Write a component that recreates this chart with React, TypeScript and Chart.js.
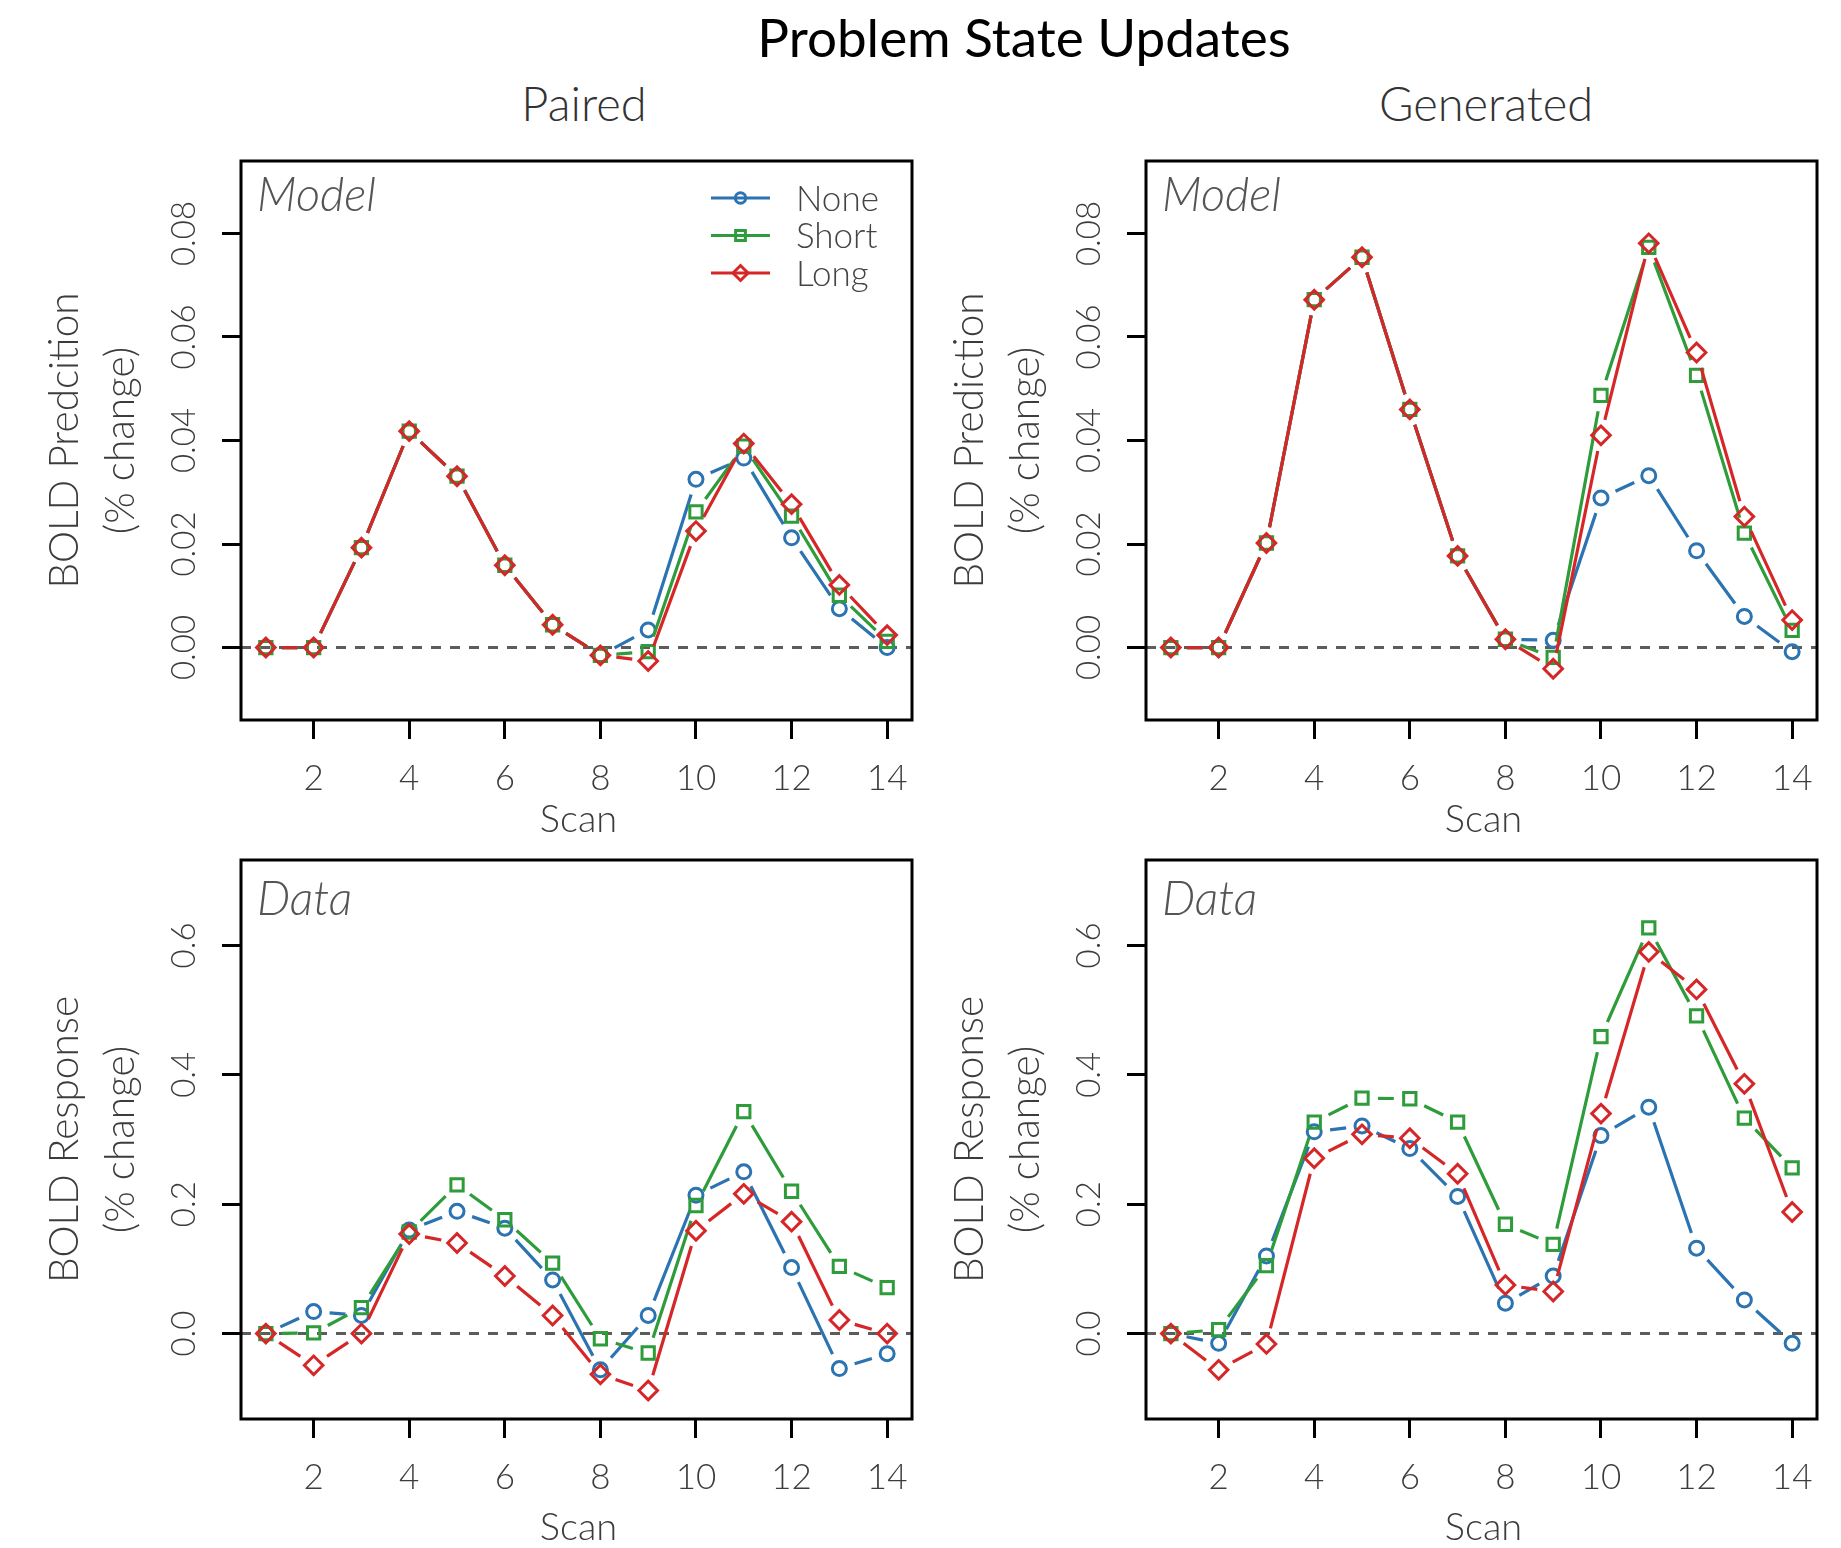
import React, { useEffect, useRef } from 'react';
import { Chart, registerables } from 'chart.js';

Chart.register(...registerables);

// ---------------- data ----------------
const scans = [1, 2, 3, 4, 5, 6, 7, 8, 9, 10, 11, 12, 13, 14];
const seriesNames = ['None', 'Short', 'Long'];

// Paired – Model
const pairedModelNone = [0, 0, 0.0193, 0.0418, 0.0331, 0.0159, 0.0044, -0.0015, 0.0034, 0.0325, 0.0366, 0.0212, 0.0075, 0.0];
const pairedModelShort = [0, 0, 0.0193, 0.0418, 0.0331, 0.0159, 0.0044, -0.0015, -0.0008, 0.0262, 0.0389, 0.0254, 0.0101, 0.0012];
const pairedModelLong = [0, 0, 0.0193, 0.0418, 0.0331, 0.0159, 0.0044, -0.0015, -0.0026, 0.0225, 0.0394, 0.0277, 0.0121, 0.0024];

// Generated – Model
const generatedModelNone = [0, 0, 0.0202, 0.0672, 0.0754, 0.046, 0.0177, 0.0016, 0.0014, 0.0289, 0.0332, 0.0187, 0.006, -0.0008];
const generatedModelShort = [0, 0, 0.0202, 0.0672, 0.0754, 0.046, 0.0177, 0.0016, -0.0019, 0.0487, 0.0773, 0.0526, 0.0221, 0.0033];
const generatedModelLong = [0, 0, 0.0202, 0.0672, 0.0754, 0.046, 0.0177, 0.0016, -0.0041, 0.041, 0.0781, 0.057, 0.0253, 0.0053];

// Paired – Data
const pairedDataNone = [0, 0.034, 0.028, 0.16, 0.189, 0.163, 0.083, -0.056, 0.028, 0.214, 0.25, 0.102, -0.054, -0.031];
const pairedDataShort = [0, 0.001, 0.04, 0.157, 0.23, 0.176, 0.109, -0.008, -0.03, 0.198, 0.343, 0.22, 0.104, 0.071];
const pairedDataLong = [0, -0.049, 0.0, 0.154, 0.14, 0.089, 0.028, -0.063, -0.088, 0.159, 0.216, 0.173, 0.021, 0.0];

// Generated – Data
const generatedDataNone = [0, -0.015, 0.12, 0.312, 0.321, 0.286, 0.212, 0.047, 0.089, 0.306, 0.35, 0.132, 0.052, -0.015];
const generatedDataShort = [0, 0.006, 0.105, 0.327, 0.364, 0.363, 0.327, 0.169, 0.138, 0.459, 0.627, 0.491, 0.333, 0.256];
const generatedDataLong = [0, -0.056, -0.016, 0.271, 0.308, 0.302, 0.247, 0.075, 0.065, 0.34, 0.59, 0.532, 0.386, 0.188];

// ticks / ranges
const scanTicks = [2, 4, 6, 8, 10, 12, 14];
const scanTickLabels = ['2', '4', '6', '8', '10', '12', '14'];
const scanRange = [0.48, 14.52];
const modelTicks = [0, 0.02, 0.04, 0.06, 0.08];
const modelTickLabels = ['0.00', '0.02', '0.04', '0.06', '0.08'];
const modelRange = [-0.014, 0.094];
const dataTicks = [0, 0.2, 0.4, 0.6];
const dataTickLabels = ['0.0', '0.2', '0.4', '0.6'];
const dataRange = [-0.132, 0.732];

// ---------------- styles ----------------
const seriesColors = ['#2b73b1', '#2e9c3a', '#d62728'];
const pointStyles = ['circle', 'rect', 'rectRot'];
const pointRadii = [7, 8.7, 9.3];
const FONT = 'Lato, "Noto Sans", sans-serif';
const GAP = 16;
const LINE_W = 3.2;
const MARK_W = 3;

const BOX_W = 671;
const BOX_H = 559;
const PAD_L = 241;
const PAD_T = 20;
const PAD_R = 10;
const PAD_B = 128;

type PanelCfg = {
  left: number;
  top: number;
  series: number[][];
  yTicks: number[];
  yTickLabels: string[];
  yRange: number[];
  yTitle: string[];
  label: string;
  labelBaseline: number;
  scanBaseline: number;
  legend: boolean;
};

const panels: PanelCfg[] = [
  {
    left: 241, top: 161,
    series: [pairedModelNone, pairedModelShort, pairedModelLong],
    yTicks: modelTicks, yTickLabels: modelTickLabels, yRange: modelRange,
    yTitle: ['BOLD Predcition', '(% change)'], label: 'Model', labelBaseline: 50, scanBaseline: 112, legend: true,
  },
  {
    left: 1146, top: 161,
    series: [generatedModelNone, generatedModelShort, generatedModelLong],
    yTicks: modelTicks, yTickLabels: modelTickLabels, yRange: modelRange,
    yTitle: ['BOLD Prediction', '(% change)'], label: 'Model', labelBaseline: 50, scanBaseline: 112, legend: false,
  },
  {
    left: 241, top: 860,
    series: [pairedDataNone, pairedDataShort, pairedDataLong],
    yTicks: dataTicks, yTickLabels: dataTickLabels, yRange: dataRange,
    yTitle: ['BOLD Response', '(% change)'], label: 'Data', labelBaseline: 55, scanBaseline: 121, legend: false,
  },
  {
    left: 1146, top: 860,
    series: [generatedDataNone, generatedDataShort, generatedDataLong],
    yTicks: dataTicks, yTickLabels: dataTickLabels, yRange: dataRange,
    yTitle: ['BOLD Response', '(% change)'], label: 'Data', labelBaseline: 55, scanBaseline: 121, legend: false,
  },
];

function drawMarker(ctx: CanvasRenderingContext2D, style: string, x: number, y: number, r: number) {
  ctx.beginPath();
  if (style === 'circle') {
    ctx.arc(x, y, r, 0, Math.PI * 2);
  } else if (style === 'rect') {
    const s = r * Math.SQRT1_2;
    ctx.rect(x - s, y - s, 2 * s, 2 * s);
  } else {
    ctx.moveTo(x - r, y);
    ctx.lineTo(x, y - r);
    ctx.lineTo(x + r, y);
    ctx.lineTo(x, y + r);
    ctx.closePath();
  }
  ctx.stroke();
}

function makePlugin(p: PanelCfg) {
  return {
    id: 'panelDecor',
    beforeDatasetsDraw(chart: any) {
      const { ctx, chartArea: a } = chart;
      const y0 = chart.scales.y.getPixelForValue(0);
      ctx.save();
      ctx.beginPath();
      ctx.rect(a.left, a.top, a.right - a.left, a.bottom - a.top);
      ctx.clip();
      ctx.beginPath();
      ctx.setLineDash([10, 9]);
      ctx.lineWidth = 3;
      ctx.strokeStyle = '#5c5c5c';
      ctx.moveTo(a.left, y0);
      ctx.lineTo(a.right, y0);
      ctx.stroke();
      ctx.restore();
    },
    beforeDatasetDraw(chart: any, args: any) {
      const { ctx } = chart;
      const i = args.index;
      const pts = args.meta.data;
      ctx.save();
      ctx.strokeStyle = seriesColors[i];
      ctx.lineWidth = LINE_W;
      ctx.lineCap = 'butt';
      ctx.beginPath();
      for (let k = 0; k < pts.length - 1; k++) {
        const a = pts[k];
        const b = pts[k + 1];
        const dx = b.x - a.x;
        const dy = b.y - a.y;
        const d = Math.hypot(dx, dy);
        if (d <= 2 * GAP) continue;
        const ux = dx / d;
        const uy = dy / d;
        ctx.moveTo(a.x + ux * GAP, a.y + uy * GAP);
        ctx.lineTo(b.x - ux * GAP, b.y - uy * GAP);
      }
      ctx.stroke();
      ctx.restore();
    },
    afterDraw(chart: any) {
      const { ctx, chartArea: a } = chart;
      const xS = chart.scales.x;
      const yS = chart.scales.y;
      ctx.save();
      // box
      ctx.strokeStyle = '#000';
      ctx.lineWidth = 3;
      ctx.setLineDash([]);
      ctx.strokeRect(a.left, a.top, a.right - a.left, a.bottom - a.top);

      // x tick labels
      ctx.fillStyle = '#3c3c3c';
      ctx.font = `300 35px ${FONT}`;
      ctx.textAlign = 'center';
      ctx.textBaseline = 'alphabetic';
      scanTicks.forEach((v, k) => {
        ctx.fillText(scanTickLabels[k], xS.getPixelForValue(v), a.bottom + 70);
      });
      // x title
      ctx.font = `300 38px ${FONT}`;
      ctx.fillText('Scan', (a.left + a.right) / 2 + 2, a.bottom + p.scanBaseline);

      // y tick labels (rotated)
      ctx.font = `300 33px ${FONT}`;
      p.yTicks.forEach((v, k) => {
        const py = yS.getPixelForValue(v);
        ctx.save();
        ctx.translate(a.left - 46, py);
        ctx.rotate(-Math.PI / 2);
        ctx.fillText(p.yTickLabels[k], 0, 0);
        ctx.restore();
      });
      // y title
      ctx.font = `300 40.5px ${FONT}`;
      const cy = (a.top + a.bottom) / 2;
      [a.left - 163, a.left - 107].forEach((bx, k) => {
        ctx.save();
        ctx.translate(bx, cy);
        ctx.rotate(-Math.PI / 2);
        ctx.fillText(p.yTitle[k], 0, 0);
        ctx.restore();
      });

      // panel label
      ctx.fillStyle = '#555';
      ctx.textAlign = 'left';
      ctx.font = `italic 300 47px ${FONT}`;
      ctx.fillText(p.label, a.left + 16, a.top + p.labelBaseline);

      // legend
      if (p.legend) {
        const rows = [37, 74.5, 112];
        ctx.font = `300 35px ${FONT}`;
        rows.forEach((ry, i) => {
          const y = a.top + ry;
          ctx.strokeStyle = seriesColors[i];
          ctx.lineWidth = LINE_W;
          ctx.beginPath();
          ctx.moveTo(a.left + 470, y);
          ctx.lineTo(a.left + 529, y);
          ctx.stroke();
          ctx.lineWidth = MARK_W;
          drawMarker(ctx, pointStyles[i], a.left + 499.5, y, pointRadii[i] - 1.8);
          ctx.fillStyle = '#444';
          ctx.fillText(seriesNames[i], a.left + 555, y + 12.5);
        });
      }
      ctx.restore();
    },
  };
}

function Panel({ cfg }: { cfg: PanelCfg }) {
  const ref = useRef<HTMLCanvasElement>(null);
  const W = PAD_L + BOX_W + PAD_R;
  const H = PAD_T + BOX_H + PAD_B;
  useEffect(() => {
    if (!ref.current) return;
    const chart = new Chart(ref.current, {
      type: 'line',
      data: {
        datasets: cfg.series.map((vals, i) => ({
          label: seriesNames[i],
          data: scans.map((s, j) => ({ x: s, y: vals[j] })),
          showLine: false,
          borderColor: seriesColors[i],
          backgroundColor: 'rgba(0,0,0,0)',
          pointStyle: pointStyles[i] as any,
          pointRadius: pointRadii[i],
          pointHoverRadius: pointRadii[i],
          pointBorderWidth: MARK_W,
          pointHoverBorderWidth: MARK_W,
          pointBackgroundColor: 'rgba(0,0,0,0)',
          pointBorderColor: seriesColors[i],
          order: 3 - i,
          clip: false as any,
        })),
      },
      options: {
        animation: false,
        responsive: false,
        maintainAspectRatio: false,
        devicePixelRatio: 1,
        events: [],
        layout: {
          autoPadding: false,
          padding: { left: PAD_L - 20, top: PAD_T, right: PAD_R, bottom: PAD_B - 20 },
        },
        plugins: {
          legend: { display: false },
          title: { display: false },
          tooltip: { enabled: false },
        },
        scales: {
          x: {
            type: 'linear',
            position: 'bottom',
            min: scanRange[0],
            max: scanRange[1],
            afterBuildTicks: (s: any) => { s.ticks = scanTicks.map((v) => ({ value: v })); },
            afterFit: (s: any) => { s.height = 20; },
            ticks: { display: false },
            grid: { drawOnChartArea: false, drawTicks: true, tickLength: 19, tickWidth: 3, tickColor: '#000' },
            border: { display: false },
          },
          y: {
            type: 'linear',
            position: 'left',
            min: cfg.yRange[0],
            max: cfg.yRange[1],
            afterBuildTicks: (s: any) => { s.ticks = cfg.yTicks.map((v) => ({ value: v })); },
            afterFit: (s: any) => { s.width = 20; },
            ticks: { display: false },
            grid: { drawOnChartArea: false, drawTicks: true, tickLength: 19, tickWidth: 3, tickColor: '#000' },
            border: { display: false },
          },
        },
      } as any,
      plugins: [makePlugin(cfg)],
    });
    let alive = true;
    const fonts: any = (document as any).fonts;
    if (fonts && fonts.load) {
      Promise.all([
        fonts.load(`300 30px Lato`),
        fonts.load(`italic 300 44px Lato`),
        fonts.load(`400 50px Lato`),
      ]).then(() => { if (alive) chart.draw(); }).catch(() => {});
    }
    return () => { alive = false; chart.destroy(); };
  }, [cfg]);
  return (
    <canvas
      ref={ref}
      width={W}
      height={H}
      style={{ position: 'absolute', left: cfg.left - PAD_L, top: cfg.top - PAD_T, width: W, height: H }}
    />
  );
}

function Heading({ text, cx, baseline, size, weight, color }: { text: string; cx: number; baseline: number; size: number; weight: number; color: string }) {
  return (
    <div
      style={{
        position: 'absolute',
        left: cx - 400,
        width: 800,
        top: baseline - size * 0.887,
        textAlign: 'center',
        fontFamily: FONT,
        fontSize: size,
        lineHeight: `${size}px`,
        fontWeight: weight,
        color,
        whiteSpace: 'nowrap',
      }}
    >
      {text}
    </div>
  );
}

export default function App() {
  return (
    <div style={{ position: 'absolute', left: 0, top: 0, width: 1841, height: 1548, overflow: 'hidden', background: '#fff' }}>
      <Heading text="Problem State Updates" cx={1024} baseline={57} size={53} weight={400} color="#000" />
      <Heading text="Paired" cx={584} baseline={122} size={47} weight={300} color="#333" />
      <Heading text="Generated" cx={1486} baseline={122} size={47} weight={300} color="#333" />
      {panels.map((p, i) => (
        <Panel key={i} cfg={p} />
      ))}
    </div>
  );
}
